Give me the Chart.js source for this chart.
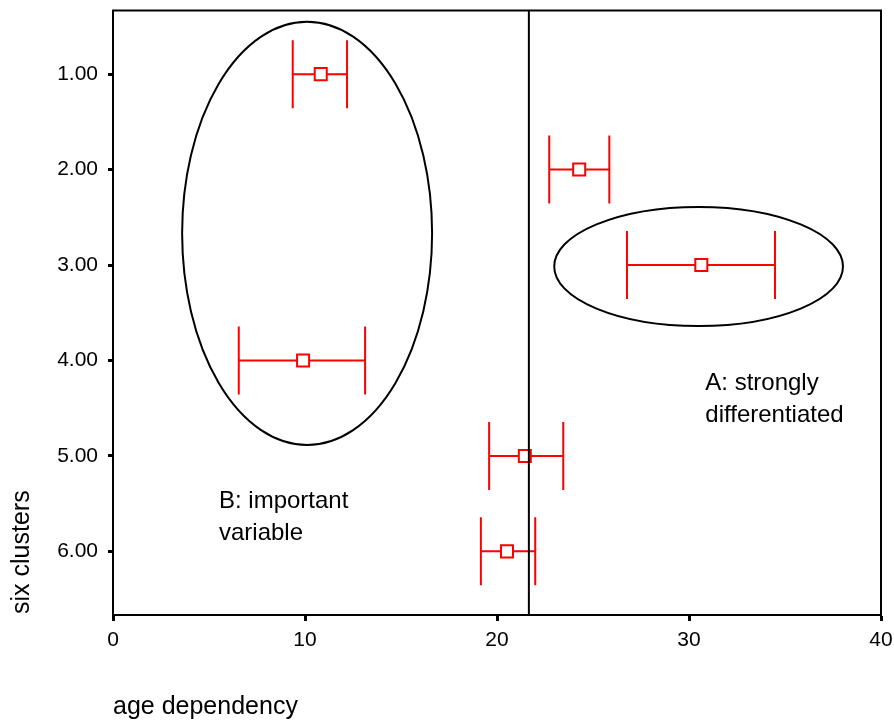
<!DOCTYPE html>
<html>
<head>
<meta charset="utf-8">
<title>six clusters - age dependency</title>
<script src="https://cdn.jsdelivr.net/npm/chart.js@4.4.1/dist/chart.umd.min.js"></script>
<style>
  html, body { margin: 0; padding: 0; background: #fff; }
  #wrap { width: 894px; height: 722px; }
</style>
</head>
<body>
<div id="wrap"><canvas id="myChart" width="894" height="722"></canvas></div>
<script>
    "use strict";

    /* data */
    var clusters = [1, 2, 3, 4, 5, 6];
    var clusterLabels = ['1.00', '2.00', '3.00', '4.00', '5.00', '6.00'];
    var means = [10.82, 24.28, 30.64, 9.90, 21.45, 20.52];
    var lower = [9.36, 22.72, 26.77, 6.55, 19.59, 19.16];
    var upper = [12.19, 25.85, 34.48, 13.13, 23.45, 21.99];
    var refLine = [21.66];

    // the two circled groups (centre and half-widths in axis units)
    var ellipseCx = [10.11, 30.50];
    var ellipseCy = [2.668, 3.015];
    var ellipseRx = [6.51, 7.52];
    var ellipseRy = [2.217, 0.624];

    var noteLines = [['A: strongly', 'differentiated'], ['B: important', 'variable']];
    var noteX = [30.85, 5.52];
    var noteY = [4.31, 5.55];

    var xTitle = 'age dependency';
    var yTitle = 'six clusters';

    var fontFamily = "'Liberation Sans', Arial, sans-serif";
    var red = '#ff0000';

    /* error bars, ellipses, reference line, frame, notes */
    var extras = {
        id: 'extras',
        beforeDatasetsDraw: function (chart) {
            var ctx = chart.ctx;
            var xs = chart.scales.x, ys = chart.scales.y;
            ctx.save();

            // ellipses
            ctx.strokeStyle = '#000';
            ctx.lineWidth = 2;
            for (var e = 0; e < ellipseCx.length; e++) {
                var cx = xs.getPixelForValue(ellipseCx[e]);
                var cy = ys.getPixelForValue(ellipseCy[e]);
                var rx = Math.abs(xs.getPixelForValue(ellipseCx[e] + ellipseRx[e]) - cx);
                var ry = Math.abs(ys.getPixelForValue(ellipseCy[e] + ellipseRy[e]) - cy);
                ctx.beginPath();
                ctx.ellipse(cx, cy, rx, ry, 0, 0, Math.PI * 2);
                ctx.stroke();
            }

            // error bars
            ctx.strokeStyle = red;
            ctx.lineWidth = 2;
            for (var i = 0; i < clusters.length; i++) {
                var y = ys.getPixelForValue(clusters[i]);
                var x0 = xs.getPixelForValue(lower[i]);
                var x1 = xs.getPixelForValue(upper[i]);
                ctx.beginPath();
                ctx.moveTo(x0, y);
                ctx.lineTo(x1, y);
                ctx.moveTo(x0, y - 34);
                ctx.lineTo(x0, y + 34);
                ctx.moveTo(x1, y - 34);
                ctx.lineTo(x1, y + 34);
                ctx.stroke();
            }

            // notes
            ctx.fillStyle = '#000';
            ctx.font = '24px ' + fontFamily;
            ctx.textAlign = 'left';
            ctx.textBaseline = 'alphabetic';
            for (var n = 0; n < noteLines.length; n++) {
                var tx = xs.getPixelForValue(noteX[n]);
                var ty = ys.getPixelForValue(noteY[n]);
                for (var l = 0; l < noteLines[n].length; l++) {
                    ctx.fillText(noteLines[n][l], tx, ty + l * 32);
                }
            }
            ctx.restore();
        },
        afterDatasetsDraw: function (chart) {
            var ctx = chart.ctx;
            var a = chart.chartArea;
            var xs = chart.scales.x;
            ctx.save();
            ctx.strokeStyle = '#000';
            ctx.lineWidth = 2;

            // vertical reference line
            var rx = xs.getPixelForValue(refLine[0]);
            ctx.beginPath();
            ctx.moveTo(rx, a.top);
            ctx.lineTo(rx, a.bottom);
            ctx.stroke();

            // frame
            ctx.strokeRect(a.left, a.top, a.right - a.left, a.bottom - a.top);

            // y title, read from the bottom up (the built-in one flips on a reversed axis)
            ctx.translate(22.5, a.bottom - 1);
            ctx.rotate(-Math.PI / 2);
            ctx.fillStyle = '#000';
            ctx.font = '25px ' + fontFamily;
            ctx.textAlign = 'left';
            ctx.textBaseline = 'middle';
            ctx.fillText(yTitle, 0, 0);
            ctx.restore();
        }
    };

    var ctx = document.getElementById('myChart').getContext('2d');
    var chart = new Chart(ctx, {
        type: 'scatter',
        data: {
            datasets: [{
                label: 'mean',
                data: clusters.map(function (c, i) {
                    return { x: means[i], y: c };
                }),
                pointStyle: 'rect',
                pointRadius: 8.5,
                pointHoverRadius: 8.5,
                borderWidth: 2,
                borderColor: red,
                backgroundColor: '#fff'
            }]
        },
        options: {
            responsive: false,
            animation: false,
            events: [],
            layout: {
                padding: { top: 9, right: 13, bottom: 0, left: 0 }
            },
            scales: {
                x: {
                    type: 'linear',
                    min: 0,
                    max: 40,
                    ticks: {
                        stepSize: 10,
                        color: '#000',
                        padding: 7,
                        font: { family: fontFamily, size: 21 }
                    },
                    grid: {
                        drawOnChartArea: false,
                        drawTicks: true,
                        tickLength: 6,
                        tickWidth: 3,
                        tickColor: '#000'
                    },
                    border: { color: '#000', width: 2 },
                    title: {
                        display: true,
                        text: xTitle,
                        align: 'start',
                        color: '#000',
                        padding: { top: 0, bottom: 0 },
                        font: { family: fontFamily, size: 25 }
                    },
                    afterFit: function (s) {
                        s.height = 107;
                        s.paddingLeft = 0;
                        s.paddingRight = 0;
                    }
                },
                y: {
                    type: 'linear',
                    reverse: true,
                    min: 1 / 3,
                    max: 6 + 2 / 3,
                    afterBuildTicks: function (s) {
                        s.ticks = clusters.map(function (c) {
                            return { value: c };
                        });
                    },
                    ticks: {
                        color: '#000',
                        padding: 10,
                        font: { family: fontFamily, size: 21 },
                        callback: function (value) {
                            var idx = clusters.indexOf(value);
                            return idx >= 0 ? clusterLabels[idx] : '';
                        }
                    },
                    grid: {
                        drawOnChartArea: false,
                        drawTicks: true,
                        tickLength: 5,
                        tickWidth: 3,
                        tickColor: '#000'
                    },
                    border: { color: '#000', width: 2 },
                    title: { display: false },
                    afterFit: function (s) {
                        s.width = 113;
                        s.paddingTop = 0;
                        s.paddingBottom = 0;
                    }
                }
            },
            plugins: {
                legend: { display: false },
                tooltip: { enabled: false }
            }
        },
        plugins: [extras]
    });
</script>
</body>
</html>
